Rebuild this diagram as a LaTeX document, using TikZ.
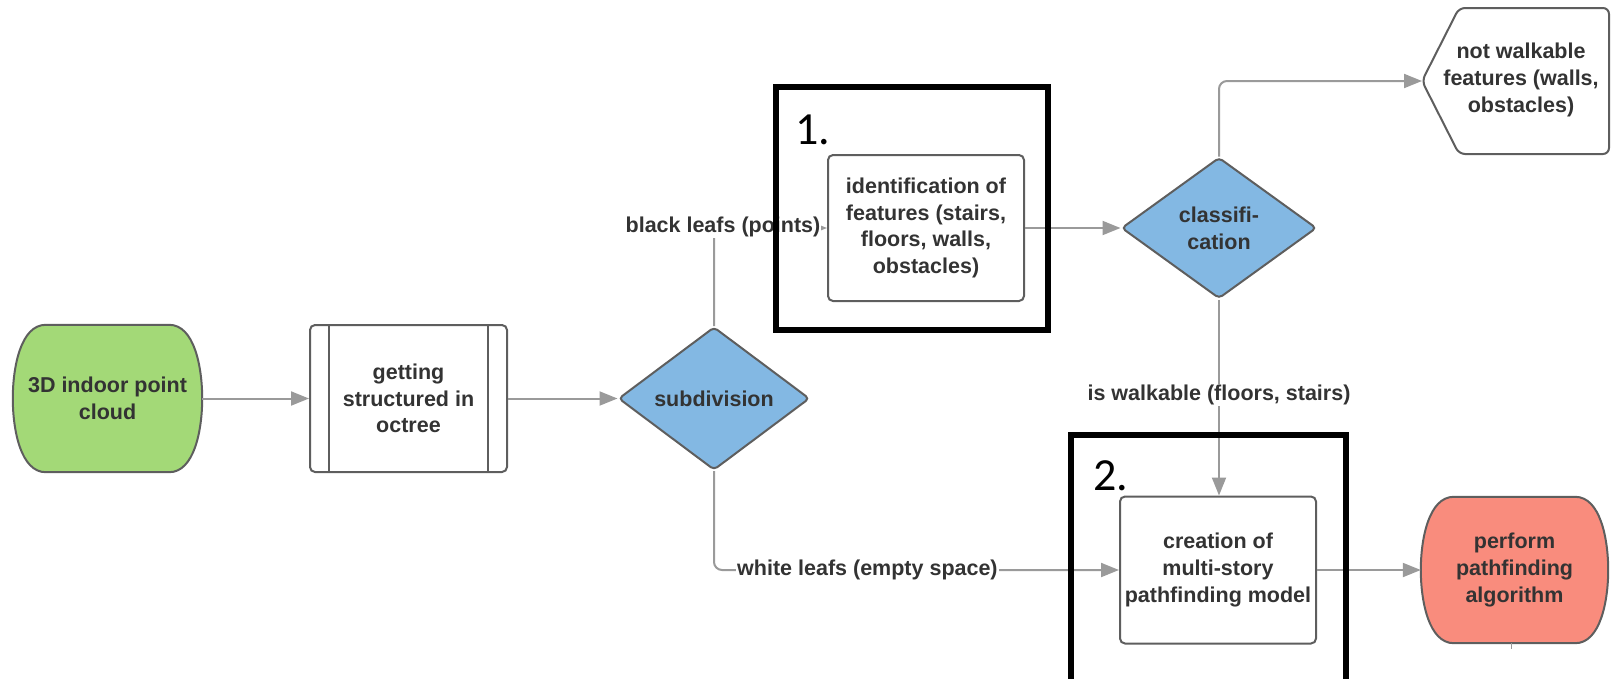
\documentclass[tikz,border=0pt]{standalone}
\usepackage{fontspec}
\setmainfont{Liberation Sans}
\newfontfamily\numfont{Carlito}
\usetikzlibrary{shapes.geometric,arrows.meta,calc,backgrounds}
\definecolor{cgreen}{HTML}{A3D977}
\definecolor{cblue}{HTML}{83B8E3}
\definecolor{cred}{HTML}{F98C7D}
\definecolor{cborder}{HTML}{5E5E5E}
\definecolor{cline}{HTML}{9A9A9A}
\definecolor{ctext}{HTML}{333333}
\newcommand\termshape[2]{%
  \path[draw=cborder, line width=2pt, fill=#2]
   let \p1=(#1.north west), \p2=(#1.south east) in
   ({\x1+33pt},\y1) -- ({\x2-33pt},\y1)
   .. controls ({\x2-8pt},\y1) and (\x2,{\y1-42pt}) .. (\x2,{0.5*(\y1+\y2)})
   .. controls (\x2,{\y2+42pt}) and ({\x2-8pt},\y2) .. ({\x2-33pt},\y2)
   -- ({\x1+33pt},\y2)
   .. controls ({\x1+8pt},\y2) and (\x1,{\y2+42pt}) .. (\x1,{0.5*(\y1+\y2)})
   .. controls (\x1,{\y1-42pt}) and ({\x1+8pt},\y1) .. cycle;}
\tikzset{
  every node/.style={font=\bfseries\fontsize{21.5}{26.7}\selectfont, text=ctext},
  conn/.style={draw=cline, line width=2pt, rounded corners=8pt},
  arr/.style={-{Triangle[length=18pt,width=14pt]}},
  term/.style={draw=none, align=center, inner sep=0pt},
  procbox/.style={draw=cborder, line width=2pt, rounded corners=5pt, fill=white,
    minimum width=196pt, minimum height=147pt, align=center, inner sep=0pt},
  dia/.style={diamond, draw=cborder, fill=cblue, line width=2pt, rounded corners=4pt,
    inner sep=0pt, align=center},
  lbl/.style={fill=white, inner sep=1pt},
  frame/.style={draw=black, line width=6pt},
  num/.style={font=\numfont\fontsize{46}{46}\selectfont, text=black, anchor=base west, inner sep=0pt},
}
\begin{document}
\begin{tikzpicture}[x=1pt, y=-1pt]
\useasboundingbox (0,0) rectangle (1612,678);
\clip (0,0) rectangle (1612,678);
% hexagon (not walkable)
\coordinate (nwl) at (1422,81);
\path[draw=cborder, line width=2pt, fill=white, rounded corners=6pt]
  (nwl) -- (1459,8) -- (1609,8) -- (1609,154) -- (1459,154) -- cycle;
\node[align=center] (notwalk) at (1521,80) {not walkable\\features (walls,\\obstacles)};
% nodes
\node[term, minimum width=189pt, minimum height=147pt] (cloud) at (107.5,398.5) {3D indoor point\\cloud};
\node[procbox, minimum width=197pt] (octree) at (408.5,398.5) {getting\\structured in\\octree};
\draw[draw=cborder, line width=2pt] ($(octree.north west)+(20,0)$) -- ($(octree.south west)+(20,0)$);
\draw[draw=cborder, line width=2pt] ($(octree.north east)+(-20,0)$) -- ($(octree.south east)+(-20,0)$);
\node[dia, minimum width=191pt, minimum height=143pt] (subdiv) at (714,398.5) {subdivision};
\node[procbox, minimum height=146pt] (ident) at (926,228) {identification of\\features (stairs,\\floors, walls,\\obstacles)};
\node[dia, minimum width=195pt, minimum height=141pt] (classif) at (1219,228) {classifi-\\cation};
\node[procbox] (create) at (1218,570) {creation of\\multi-story\\pathfinding model};
\node[term, minimum width=187pt, minimum height=146pt] (perform) at (1514.5,570) {perform\\pathfinding\\algorithm};
\begin{scope}[on background layer]
  \termshape{cloud}{cgreen}
  \termshape{perform}{cred}
\end{scope}
% connectors
\draw[conn,arr] (cloud.east) -- (octree.west);
\draw[conn,arr] (octree.east) -- (subdiv.west);
\draw[conn,arr] (subdiv.north) |- (ident.west);
\draw[conn,arr] (ident.east) -- (classif.west);
\draw[conn,arr] (classif.north) |- (nwl);
\draw[conn,arr] (classif.south) -- (classif.south |- create.north);
\draw[conn,arr] (subdiv.south) |- (create.west);
\draw[conn,arr] (create.east) -- (perform.west);
\draw[draw=cline, line width=1.5pt] ($(perform.south)+(-3,0)$) -- ($(perform.south)+(-3,6)$);
% labels
\node[lbl] (lblblack) at (723,227) {black leafs (points)};
\node[lbl] (lblwalk) at (1219,395) {is walkable (floors, stairs)};
\node[lbl, anchor=west] (lblwhite) at (736,570) {white leafs (empty space)};
% frames
\node[frame, minimum width=272pt, minimum height=243pt] (frame1) at (912,208.5) {};
\node[frame, minimum width=275pt, minimum height=260pt] (frame2) at (1208,564.5) {};
\node[num] (n1) at (795,144) {1.};
\node[num] (n2) at (1093,490) {2.};
\end{tikzpicture}
\end{document}
